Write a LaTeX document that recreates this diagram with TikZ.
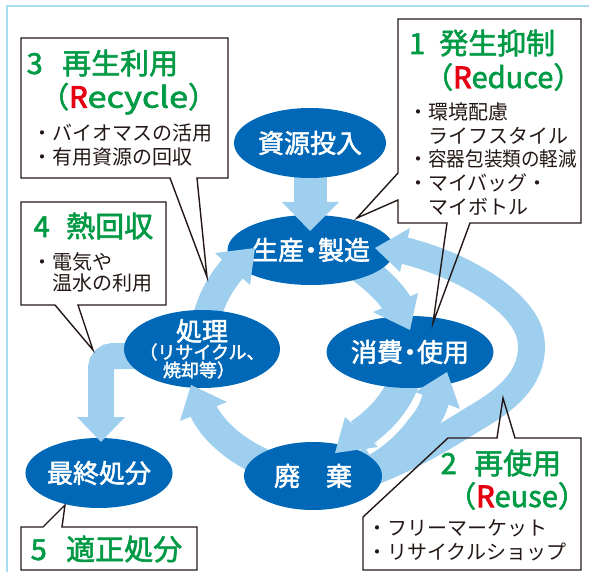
\documentclass[tikz,border=0pt]{standalone}
\usepackage{fontspec}
\usepackage{graphicx}
\newfontfamily\jp{Noto Sans CJK JP}
\newfontfamily\jpb[FakeBold=2]{Noto Sans CJK JP}
\newfontfamily\jpbb[FakeBold=3.5]{Noto Sans CJK JP}
\usetikzlibrary{shapes.geometric}
\definecolor{dblue}{HTML}{0068B7}
\definecolor{lblue}{HTML}{9FCFEE}
\definecolor{frameblue}{HTML}{A8DCF0}
\definecolor{tgreen}{HTML}{009944}
\definecolor{tred}{HTML}{E60012}
\definecolor{boxline}{HTML}{231815}
\pgfdeclarelayer{back}
\pgfdeclarelayer{front}
\pgfsetlayers{back,main,front}
\newcommand{\redR}{{\jpbb\color{tred}R}}
\tikzset{
  ell/.style={ellipse, fill=dblue, inner sep=0pt, text=white, font={\jpb\fontsize{26}{30}\selectfont}},
  etxt/.style={inner sep=0pt, text=white},
  shaft/.style={draw=lblue, line width=#1, line cap=butt},
  gapline/.style={draw=white, line width=6pt},
  head/.style={fill=lblue},
  callout/.style={draw=boxline, line width=1.4pt, line join=miter},
  numtxt/.style={anchor=base west, inner sep=0pt, text=tgreen, font={\jpb\fontsize{29}{32}\selectfont}},
  bul/.style={anchor=base west, inner sep=0pt, text=boxline, font={\jp\fontsize{20}{24}\selectfont}},
}
\begin{document}
\begin{tikzpicture}[x=1pt,y=-1pt]
\useasboundingbox (0,0) rectangle (589,572);
% frame
\draw[frameblue, line width=2pt] (7,572) -- (7,6) -- (589,6);

% ---------- ellipses ----------
\node[ell, minimum width=152pt, minimum height=70pt] (A) at (310,143) {資源投入};
\node[ell, minimum width=144pt, minimum height=70pt] (B) at (311,250) {生産\kern-6pt・\kern-6pt製造};
\node[ell, minimum width=142pt, minimum height=72pt] (C) at (410,352) {消費\kern-6pt・\kern-6pt使用};
\node[ell, minimum width=138pt, minimum height=68pt] (D) at (313,476) {廃　棄};
\node[ell, minimum width=156pt, minimum height=78pt] (E) at (202,349) {};
\node[etxt, font={\jpb\fontsize{26}{30}\selectfont}] (E1) at (202,331) {処理};
\node[etxt, font={\jpb\fontsize{18}{20}\selectfont}] (E2) at (202,352) {（リサイクル、};
\node[etxt, font={\jpb\fontsize{18}{20}\selectfont}] (E3) at (199,370) {焼却等）};
\node[ell, minimum width=134pt, minimum height=70pt] (F) at (99,473) {最終処分};

% ---------- connector coordinates ----------
\coordinate (ABe) at (310,205);
\coordinate (ABt) at (310,231); \coordinate (ABl) at (282,202); \coordinate (ABr) at (339,202);
\coordinate (BCs) at (335,252); \coordinate (BCe) at (398,305);
\coordinate (BCt) at (410,330); \coordinate (BCl) at (373,312); \coordinate (BCr) at (418,293);
\coordinate (CDs) at (408,362); \coordinate (CDe) at (360,434);
\coordinate (CDt) at (335,453); \coordinate (CDl) at (345,417); \coordinate (CDr) at (378,447);
\coordinate (DEs) at (290,472); \coordinate (DEe) at (202,408);
\coordinate (DEt) at (191,385); \coordinate (DEl) at (180,421); \coordinate (DEr) at (227,402);
\coordinate (EBs) at (203,345); \coordinate (EBe) at (235,266);
\coordinate (EBt) at (255,248); \coordinate (EBl) at (215,253); \coordinate (EBr) at (250,285);
\coordinate (EFs) at (160,356); \coordinate (EFc) at (101,356); \coordinate (EFe) at (101,420);
\coordinate (EFt) at (101,442); \coordinate (EFl) at (77,417); \coordinate (EFr) at (125,417);
\coordinate (LPs) at (345,482); \coordinate (LPa) at (475,418); \coordinate (LPb) at (531,340); \coordinate (LPe) at (402,250);
\coordinate (LPt) at (375,248); \coordinate (LPl) at (410,228); \coordinate (LPr) at (400,272);
\coordinate (BRs) at (345,470); \coordinate (BRe) at (436,397);
\coordinate (BRt) at (447,372); \coordinate (BRl) at (415,392); \coordinate (BRr) at (460,409);
\coordinate (GPs) at (421,390); \coordinate (GPe) at (368,452);

% ---------- shafts (behind ellipses) ----------
\begin{pgfonlayer}{back}
\draw[shaft=33pt] (A.center) -- (ABe);
\draw[shaft=27pt] (LPs) .. controls (400,464) and (440,440) .. (LPa)
   .. controls (510,398) and (535,375) .. (LPb)
   .. controls (527,305) and (468,266) .. (LPe);
\draw[shaft=28pt] (BRs) .. controls (395,455) and (430,428) .. (BRe);
\draw[shaft=31pt] (CDs) .. controls (406,392) and (384,418) .. (CDe);
\draw[gapline] (GPs) .. controls (413,412) and (395,436) .. (GPe);
\draw[shaft=30pt] (BCs) .. controls (356,262) and (386,285) .. (BCe);
\draw[shaft=28pt] (DEs) .. controls (250,462) and (214,436) .. (DEe);
\draw[shaft=28pt] (EBs) .. controls (204,310) and (218,285) .. (EBe);
\draw[shaft=26pt, rounded corners=12pt] (EFs) -- (EFc) -- (EFe);
\end{pgfonlayer}

% ---------- heads (in front of ellipses) ----------
\begin{pgfonlayer}{front}
\fill[head] (ABt) -- (ABl) -- (ABr) -- cycle;
\fill[head] (BCt) -- (BCl) -- (BCr) -- cycle;
\fill[head] (CDt) -- (CDl) -- (CDr) -- cycle;
\fill[head] (DEt) -- (DEl) -- (DEr) -- cycle;
\fill[head] (EBt) -- (EBl) -- (EBr) -- cycle;
\fill[head] (EFt) -- (EFl) -- (EFr) -- cycle;
\fill[head] (LPt) -- (LPl) -- (LPr) -- cycle;
\fill[head] (BRt) -- (BRl) -- (BRr) -- cycle;
\end{pgfonlayer}

% ---------- callouts ----------
\draw[callout] (398,19) -- (581,19) -- (581,223) -- (470,223) -- (433,323) -- (447,223) -- (398,223) -- (398,200) -- (357,218) -- (398,173) -- cycle;
\draw[callout] (21,38) -- (228,38) -- (228,178) -- (197,178) -- (207,277) -- (170,178) -- (21,178) -- cycle;
\draw[callout] (21,202) -- (166,202) -- (166,305) -- (78,305) -- (93,350) -- (55,305) -- (21,305) -- cycle;
\draw[callout] (21,527) -- (43,527) -- (65,505) -- (62,527) -- (197,527) -- (197,570) -- (21,570) -- cycle;
\draw[callout] (448,438) -- (497,438) -- (503,398) -- (515,438) -- (581,438) -- (581,570) -- (363,570) -- (363,517) -- cycle;

% box 1
\node[numtxt] (n1) at (409,54) {1};
\node[numtxt] (h1) at (439,54) {発生抑制};
\node[numtxt] (r1) at (424,88) {（\redR educe）};
\node[bul] (b1a) at (408,119.6) {・環境配慮};
\node[bul] (b1b) at (408,143.3) {　ライフスタイル};
\node[bul] (b1c) at (408,167) {・\scalebox{0.93}[1]{容器包装類の軽減}};
\node[bul] (b1d) at (408,190.7) {・マイバッグ・};
\node[bul] (b1e) at (408,214.4) {　マイボトル};
% box 3
\node[numtxt] (n3) at (26.5,74) {3};
\node[numtxt] (h3) at (62,74) {再生利用};
\node[numtxt] (r3) at (40,107.7) {（\redR\scalebox{1.18}[1]{ecycle}）};
\node[bul] (b3a) at (32,140.6) {・バイオマスの活用};
\node[bul] (b3b) at (32,164.6) {・有用資源の回収};
% box 4
\node[numtxt] (n4) at (33.5,237) {4};
\node[numtxt] (h4) at (66,237) {熱回収};
\node[bul] (b4a) at (32,269.6) {・電気や};
\node[bul] (b4b) at (32,290.6) {　温水の利用};
% box 5
\node[numtxt] (n5) at (30.5,560) {5};
\node[numtxt] (h5) at (66,560) {適正処分};
% box 2
\node[numtxt] (n2) at (440.5,474) {2};
\node[numtxt] (h2) at (474,474) {再使用};
\node[numtxt] (r2) at (447,507) {（\redR euse）};
\node[bul] (b2a) at (367,535.6) {・フリーマーケット};
\node[bul] (b2b) at (367,559.6) {・リサイクルショップ};
\end{tikzpicture}
\end{document}
